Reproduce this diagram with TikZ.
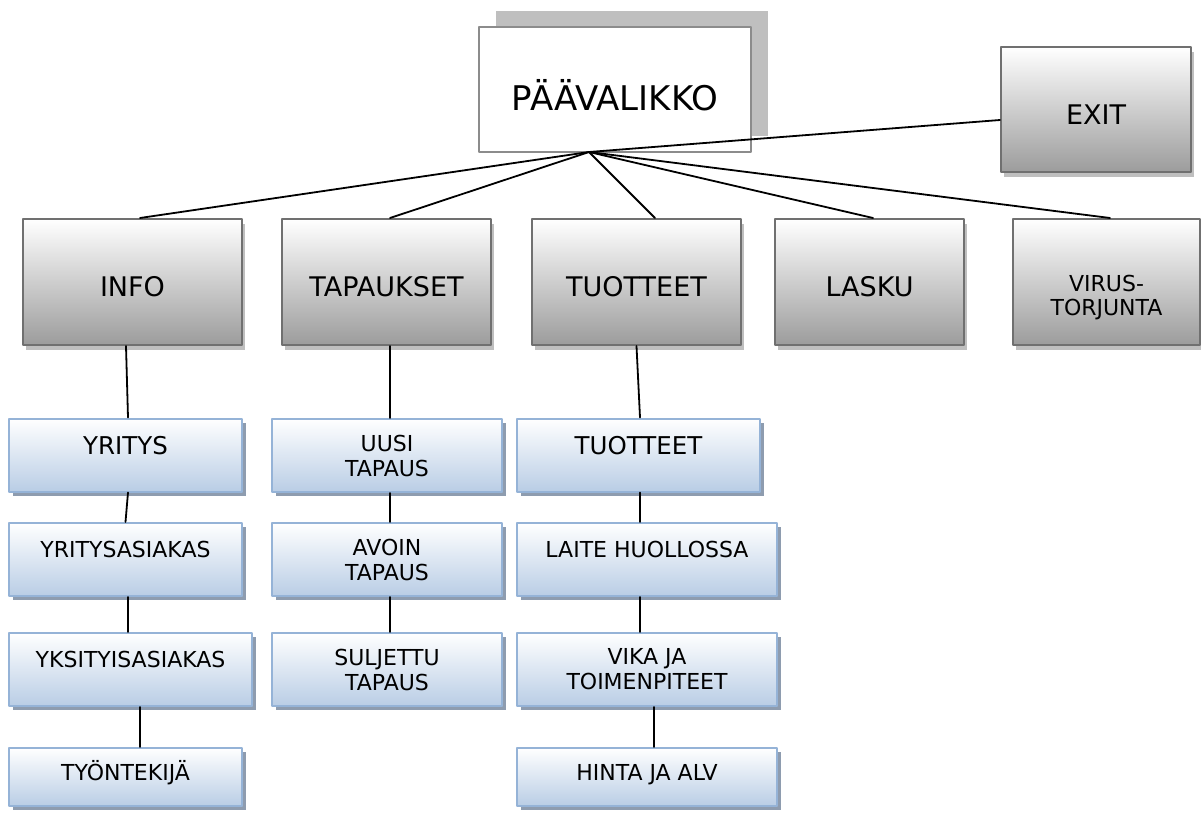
\documentclass[tikz,border=0pt]{standalone}
\usepackage{fontspec}
\setmainfont{DejaVu Sans}
\usetikzlibrary{shadows}

\definecolor{boxgray}{HTML}{9C9C9C}
\definecolor{edgegray}{HTML}{707070}
\definecolor{shadegray}{HTML}{BFBFBF}
\definecolor{boxblue}{HTML}{B9CDE5}
\definecolor{edgeblue}{HTML}{95B3D7}
\definecolor{shadeblue}{HTML}{8E9CAF}

\begin{document}
\begin{tikzpicture}[x=1pt,y=-1pt,line cap=round,line join=round,
    link@/.style={line width=1.8pt},
    main@/.style={draw=black!45,line width=1.3pt,fill=white,inner sep=0pt,
      drop shadow={shadow xshift=17pt,shadow yshift=16pt,fill=shadegray,opacity=1},
      minimum width=272pt,minimum height=125pt,
      font=\fontsize{34}{40}\selectfont,text height=41pt,text depth=0pt},
    gray@/.style={draw=edgegray,line width=2pt,top color=white,
      bottom color=boxgray,inner sep=0pt,minimum height=126pt,
      drop shadow={shadow xshift=3pt,shadow yshift=-5pt,fill=shadegray,opacity=1},
      font=\fontsize{27}{32}\selectfont,text height=29.7pt,text depth=0pt},
    blue@/.style={draw=edgeblue,line width=2pt,top color=white,
      bottom color=boxblue,inner sep=0pt,minimum height=73pt,align=center,
      drop shadow={shadow xshift=4pt,shadow yshift=-4pt,fill=shadeblue,opacity=1},
      font=\fontsize{22}{25}\selectfont},
    one@/.style={text height=16pt,text depth=20pt},
    big@/.style={font=\fontsize{24.5}{28}\selectfont,text height=17.9pt,text depth=18pt}]
    \useasboundingbox (0,0) rectangle (1201,819);

    % The main menu and its exit.
    \node[main@] (paavalikko) at (615,89.5) {PÄÄVALIKKO};
    \coordinate (hub) at (589,152);
    \node[gray@,minimum width=190pt,minimum height=125pt] (exit) at (1096,109.5) {EXIT};

    % The first level.
    \node[gray@,minimum width=219pt] (info) at (132.5,282) {INFO};
    \node[gray@,minimum width=209pt] (tapaukset) at (386.5,282) {TAPAUKSET};
    \node[gray@,minimum width=209pt] (tuotteet) at (636.5,282) {TUOTTEET};
    \node[gray@,minimum width=189pt] (lasku) at (869.5,282) {LASKU};
    \node[gray@,minimum width=187pt,font=\fontsize{22}{24}\selectfont,
      text height={},text depth={}] (virus) at (1106.5,282)
      {\raisebox{-17pt}[\height][\depth]{\begin{tabular}{@{}c@{}}VIRUS-\\TORJUNTA\end{tabular}}};

    % INFO column.
    \node[blue@,one@,big@,minimum width=233pt] (yritys) at (125.5,455) {YRITYS};
    \node[blue@,one@,minimum width=233pt] (yritysasiakas) at (125.5,559.5) {YRITYSASIAKAS};
    \node[blue@,one@,minimum width=243pt] (yksityisasiakas) at (130.5,669.5) {YKSITYISASIAKAS};
    \node[blue@,one@,minimum width=233pt,minimum height=58pt,text depth=10pt]
      (tyontekija) at (125.5,777) {TYÖNTEKIJÄ};

    % TAPAUKSET column.
    \node[blue@,minimum width=230pt] (uusi) at (387,455.5) {UUSI\\TAPAUS};
    \node[blue@,minimum width=230pt] (avoin) at (387,559.5) {AVOIN\\TAPAUS};
    \node[blue@,minimum width=230pt] (suljettu) at (387,669.5) {SULJETTU\\TAPAUS};

    % TUOTTEET column.
    \node[blue@,one@,big@,minimum width=243pt] (tuotteetb) at (638.5,455) {TUOTTEET};
    \node[blue@,one@,minimum width=260pt] (laite) at (647,559.5) {LAITE HUOLLOSSA};
    \node[blue@,minimum width=260pt] (vika) at (647,669.5) {VIKA JA\\TOIMENPITEET};
    \node[blue@,one@,minimum width=260pt,minimum height=58pt,text depth=10pt]
      (hinta) at (647,777) {HINTA JA ALV};

    % Lines from the main menu.
    \draw[link@] (hub) -- ([yshift=-10.5pt]exit.west);
    \foreach \n/\s in {info/7.5,tapaukset/3.5,tuotteet/18.5,lasku/3.5,virus/3.5}
      \draw[link@] (hub) -- ([xshift=\s pt]\n.north);

    % Lines down the columns.
    \draw[link@] ([xshift=-6.5pt]info.south) -- ([xshift=2.5pt]yritys.north);
    \draw[link@] ([xshift=2.5pt]yritys.south) -- (yritysasiakas.north);
    \draw[link@] ([xshift=2.5pt]yritysasiakas.south) -- ([xshift=-2.5pt]yksityisasiakas.north);
    \draw[link@] ([xshift=9.5pt]yksityisasiakas.south) -- ([xshift=14.5pt]tyontekija.north);
    \draw[link@] ([xshift=3.5pt]tapaukset.south) -- ([xshift=3pt]uusi.north);
    \draw[link@] ([xshift=3pt]uusi.south) -- ([xshift=3pt]avoin.north);
    \draw[link@] ([xshift=3pt]avoin.south) -- ([xshift=3pt]suljettu.north);
    \draw[link@] (tuotteet.south) -- ([xshift=1.5pt]tuotteetb.north);
    \draw[link@] ([xshift=1.5pt]tuotteetb.south) -- ([xshift=-7pt]laite.north);
    \draw[link@] ([xshift=-7pt]laite.south) -- ([xshift=-7pt]vika.north);
    \draw[link@] ([xshift=7pt]vika.south) -- ([xshift=7pt]hinta.north);
  \end{tikzpicture}
\end{document}
